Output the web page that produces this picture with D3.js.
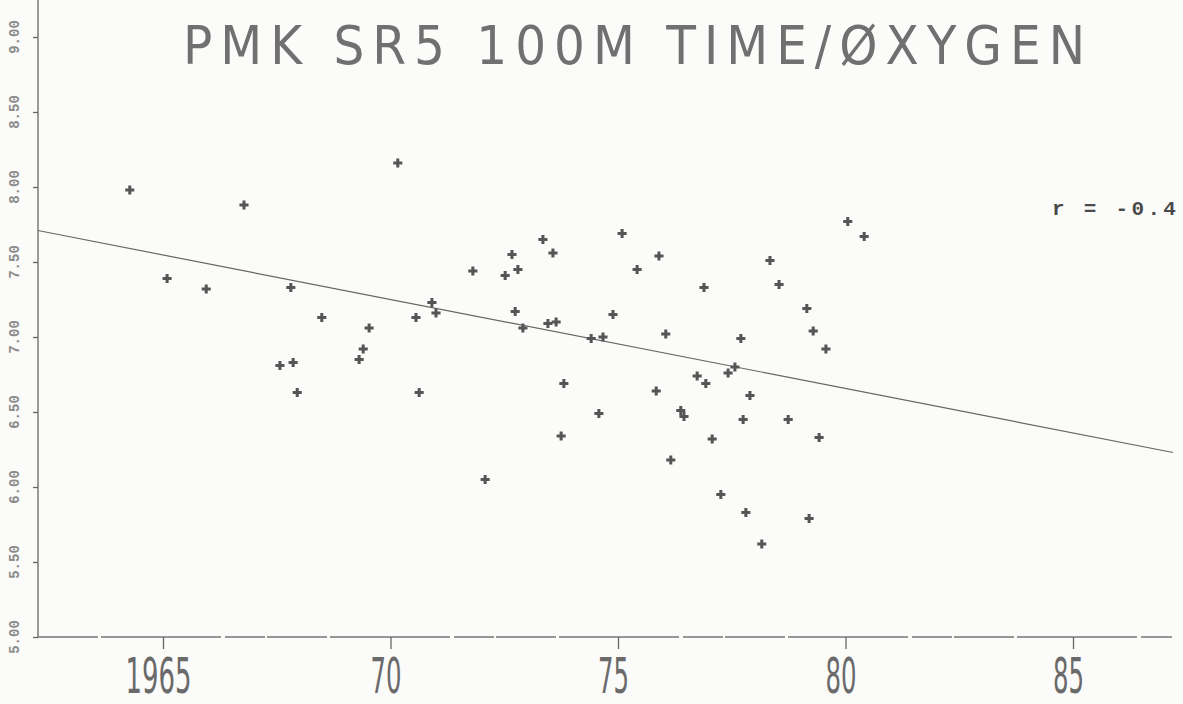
<!DOCTYPE html>
<html>
<head>
<meta charset="utf-8">
<script src="https://cdn.jsdelivr.net/npm/d3@7"></script>
<style>
  body { margin: 0; background: #fbfbf9; }
  svg { display: block; }
</style>
</head>
<body>
<div id="chart"></div>
<script>
// year / oxygen readings picked off the plot
var years = [1964.27, 1966.78, 1965.09, 1965.95, 1967.81, 1968.49, 1967.57, 1967.86, 1967.95,
    1969.31, 1969.40, 1969.53, 1970.16, 1970.56, 1970.91, 1971.00, 1970.63, 1971.81, 1972.08,
    1972.52, 1972.67, 1972.80, 1972.74, 1972.91, 1973.35, 1973.57, 1973.46, 1973.64, 1973.81,
    1973.75, 1974.41, 1974.67, 1974.58, 1974.89, 1975.09, 1975.42, 1975.90, 1976.05, 1975.84,
    1976.38, 1976.45, 1976.16, 1976.89, 1976.74, 1976.93, 1977.07, 1977.26, 1977.57, 1977.42,
    1977.70, 1977.75, 1977.90, 1977.81, 1978.16, 1978.34, 1978.54, 1978.74, 1979.15, 1979.29,
    1979.57, 1979.42, 1979.20, 1980.05, 1980.41];
var oxygen = [7.98, 7.88, 7.39, 7.32, 7.33, 7.13, 6.81, 6.83, 6.63,
    6.85, 6.92, 7.06, 8.16, 7.13, 7.23, 7.16, 6.63, 7.44, 6.05,
    7.41, 7.55, 7.45, 7.17, 7.06, 7.65, 7.56, 7.09, 7.10, 6.69,
    6.34, 6.99, 7.00, 6.49, 7.15, 7.69, 7.45, 7.54, 7.02, 6.64,
    6.51, 6.47, 6.18, 7.33, 6.74, 6.69, 6.32, 5.95, 6.80, 6.76,
    6.99, 6.45, 6.61, 5.83, 5.62, 7.51, 7.35, 6.45, 7.19, 7.04,
    6.92, 6.33, 5.79, 7.77, 7.67];

// fitted line end points
var fitYears = [1962.25, 1987.2];
var fitOxygen = [7.71, 6.23];

var xTicks = [1965, 1970, 1975, 1980, 1985];
var yTicks = [5.0, 5.5, 6.0, 6.5, 7.0, 7.5, 8.0, 8.5, 9.0];

var title = "PMK SR5 100M TIME/ØXYGEN";
var rLabel = "r = -0.4";

var width = 1183, height = 704;
var axisX = 38, axisY = 637;

var svg = d3.select("#chart")
    .append("svg")
        .attr("width", width)
        .attr("height", height);

var x = d3.scaleLinear().domain([1965, 1985]).range([163, 1073]);
var y = d3.scaleLinear().domain([5, 9]).range([637, 37]);

// axis lines drawn by hand so they run past the tick range
svg.append("line")
    .attr("x1", axisX).attr("x2", 1172)
    .attr("y1", axisY).attr("y2", axisY)
    .attr("stroke", "#777").attr("stroke-width", 1.6)
    .attr("stroke-dasharray", "60 3 120 4 40 2");
svg.append("line")
    .attr("x1", axisX).attr("x2", axisX)
    .attr("y1", 0).attr("y2", axisY)
    .attr("stroke", "#666").attr("stroke-width", 1.3);

// x axis
var xAxis = svg.append("g")
    .attr("transform", "translate(0," + axisY + ")")
    .call(d3.axisBottom(x).tickValues(xTicks).tickSize(12).tickPadding(8)
        .tickFormat(d => d === 1965 ? "1965" : String(d % 100)));
xAxis.select(".domain").remove();
xAxis.selectAll(".tick line").attr("stroke", "#666").attr("stroke-width", 1.3);
xAxis.selectAll(".tick text")
    .attr("fill", "#6a6a6a")
    .attr("font-family", "'Liberation Sans Narrow', 'DejaVu Sans Condensed', sans-serif")
    .attr("font-size", 50)
    .attr("dy", "0.71em")
    .attr("dx", -5)
    .attr("textLength", d => d === 1965 ? 66 : 31)
    .attr("lengthAdjust", "spacingAndGlyphs");

// y axis
var yAxis = svg.append("g")
    .attr("transform", "translate(" + axisX + ",0)")
    .call(d3.axisLeft(y).tickValues(yTicks).tickSize(5).tickFormat(""));
yAxis.select(".domain").remove();
yAxis.selectAll(".tick line").attr("stroke", "#666").attr("stroke-width", 1.3);

svg.append("g")
    .selectAll("text")
    .data(yTicks)
    .enter()
    .append("text")
        .text(d => d3.format(".2f")(d))
        .attr("transform", d => "translate(19," + y(d) + ") rotate(-90)")
        .attr("text-anchor", "middle")
        .attr("font-family", "'Liberation Mono', monospace")
        .attr("font-size", 14)
        .attr("font-weight", "bold")
        .attr("fill", "#8a8a8a");

// regression line
svg.append("line")
    .attr("x1", x(fitYears[0])).attr("y1", y(fitOxygen[0]))
    .attr("x2", x(fitYears[1])).attr("y2", y(fitOxygen[1]))
    .attr("stroke", "#666")
    .attr("stroke-width", 1.2);

// data points
var cross = d3.symbol().type(d3.symbolCross).size(46);
svg.append("g")
    .selectAll("path")
    .data(years.map((yr, i) => [yr, oxygen[i]]))
    .enter()
    .append("path")
        .attr("d", cross)
        .attr("transform", d => "translate(" + x(d[0]) + "," + y(d[1]) + ")")
        .attr("fill", "#555");

// title - narrow glyphs spread out like the plotter lettering
svg.append("text")
    .text(title)
    .attr("x", 183)
    .attr("y", 64)
    .attr("textLength", 902)
    .attr("lengthAdjust", "spacing")
    .attr("font-family", "'Liberation Sans Narrow', 'DejaVu Sans Condensed', sans-serif")
    .attr("font-size", 54)
    .attr("fill", "#707070");

// correlation note
svg.append("text")
    .text(rLabel)
    .attr("x", 1052)
    .attr("y", 215)
    .attr("font-family", "'Liberation Mono', monospace")
    .attr("font-size", 21)
    .attr("font-weight", "bold")
    .attr("letter-spacing", 3.3)
    .attr("fill", "#4a4a4a");
</script>
</body>
</html>
